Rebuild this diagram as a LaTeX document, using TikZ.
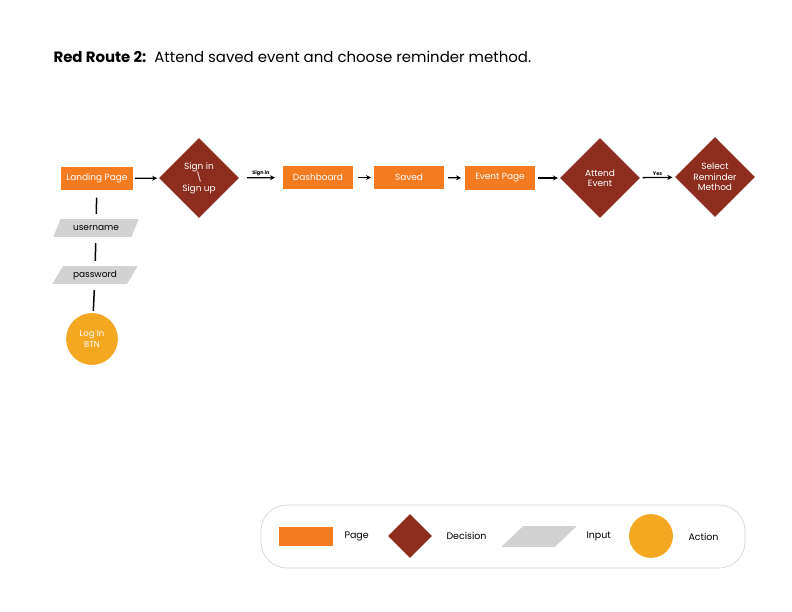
\documentclass[tikz,border=0pt]{standalone}
\usepackage{fontspec}
\setmainfont{Poppins}
\usetikzlibrary{arrows.meta, positioning, shapes.geometric}
\definecolor{pageOrange}{HTML}{F47B20}
\definecolor{decisionRed}{HTML}{8C2D1E}
\definecolor{inputGrey}{HTML}{D2D2D2}
\definecolor{actionGold}{HTML}{F4A720}
\definecolor{frameGrey}{HTML}{CFCFCF}

\begin{document}
\begin{tikzpicture}[
    x=1bp, y=-1bp,
    page/.style={rectangle, fill=pageOrange, minimum width=70, minimum height=24,
                 font=\fontsize{9}{10}\selectfont\color{white}, inner sep=1pt},
    decision/.style={diamond, fill=decisionRed, minimum size=80, inner sep=0pt,
                     align=center, font=\fontsize{9}{10.5}\selectfont\color{white}},
    entry/.style={trapezium, trapezium left angle=55, trapezium right angle=125,
                  trapezium stretches=true, fill=inputGrey, minimum width=86,
                  minimum height=18, inner sep=1pt, font=\fontsize{9}{10}\selectfont},
    action/.style={circle, fill=actionGold, minimum size=52, inner sep=0pt,
                   align=center, font=\fontsize{8.5}{10.5}\selectfont\color{white}},
    flow/.style={-{Stealth[length=5pt, width=5pt]}, line width=1.3pt,
                 shorten <=2pt, shorten >=2pt},
    link/.style={line width=1.5pt, shorten <=7pt, shorten >=5pt},
    lbl/.style={font=\fontsize{5}{6}\selectfont\bfseries, inner sep=1.5pt},
    key/.style={font=\fontsize{9.5}{10}\selectfont, anchor=west},
  ]
    \useasboundingbox (0,0) rectangle (792,612);

    % Title
    \node[anchor=west, font=\fontsize{15}{17}\selectfont] (title) at (50,57)
      {\textbf{Red Route 2:}\ \ Attend saved event and choose reminder method.};

    % Main route
    \node[page, minimum width=72] (landing) at (97,178.5) {Landing Page};
    \node[decision] (signin) at (199,178) {Sign in\\\textbackslash\\Sign up};
    \node[page] (dash) at (318,177.5) {Dashboard};
    \node[page] (saved) at (409,177.5) {Saved};
    \node[page] (event) at (500,178) {Event Page};
    \node[decision] (attend) at (600,178) {Attend\\Event};
    \node[decision] (remind) at (715,177) {Select\\Reminder\\Method};

    \draw[flow] (landing) -- (signin);
    \draw[flow, shorten <=8pt, shorten >=8pt] (signin) -- node[above, lbl]{Sign in} (dash);
    \draw[flow, shorten <=5pt, shorten >=3pt] (dash) -- (saved);
    \draw[flow, shorten <=4pt, shorten >=4pt] (saved) -- (event);
    \draw[flow, shorten <=3pt] (event) -- (attend);
    \draw[flow, shorten <=3pt, shorten >=3pt] (attend) -- node[above, lbl]{Yes} (remind);

    % Log in branch
    \node[entry] (user) at (96,228) {username};
    \node[entry] (pass) at (95,275) {password};
    \node[action] (login) at (92,339) {Log In\\BTN};

    \draw[link] (landing) -- (user);
    \draw[link, shorten <=6pt] (user) -- (pass);
    \draw[link, shorten <=6pt, shorten >=2pt] (pass) -- (login);

    % Legend
    \draw[frameGrey, line width=0.6pt, rounded corners=26] (261,505) rectangle (745,568);
    \node[page, minimum width=54, minimum height=19] (kpage) at (306,536.5) {};
    \node[key] (tpage) at (341,536) {Page};
    \node[decision, minimum size=44] (kdec) at (410,536) {};
    \node[key] (tdec) at (443,536) {Decision};
    \node[entry, minimum width=76, minimum height=21] (kin) at (539,536.5) {};
    \node[key] (tin) at (583,536) {Input};
    \node[action, minimum size=44] (kact) at (651,536) {};
    \node[key] (tact) at (685,537) {Action};
  \end{tikzpicture}
\end{document}
